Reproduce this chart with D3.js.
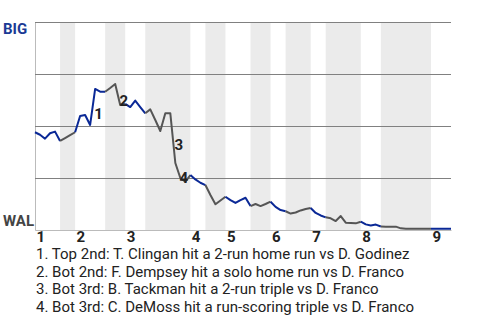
<!DOCTYPE html>
<html>
<head>
<meta charset="utf-8">
<script src="https://cdn.jsdelivr.net/npm/d3@7"></script>
<style>
  body { margin: 0; background: #fff; }
  text { font-family: Roboto, sans-serif; }
</style>
</head>
<body>
<svg width="480" height="320"></svg>
<script>
// BIG win probability (%) after each play
const winProb = [
  47.0, 45.8, 43.9, 46.5, 47.3, 42.8, 44.2, 45.6, 47.0, 54.8,
  55.3, 50.5, 67.8, 66.5, 66.5, 68.3, 70.2, 60.1, 60.6, 59.1,
  62.2, 59.1, 56.1, 58.0, 52.9, 47.6, 56.1, 56.1, 32.2, 25.0,
  23.2, 26.4, 24.3, 22.7, 21.6, 16.8, 12.4, 14.2, 16.0, 14.4,
  13.0, 14.4, 15.5, 11.5, 12.5, 11.5, 12.5, 13.6, 11.1, 9.6,
  9.0, 7.9, 8.4, 9.4, 10.1, 10.6, 8.2, 7.0, 6.1, 5.6,
  4.3, 6.7, 3.5, 3.4, 3.2, 4.0, 2.7, 2.2, 2.6, 1.7,
  1.6, 1.6, 1.6, 0.8, 0.6, 0.6, 0.6, 0.6, 0.6, 0.6,
  0.6, 0.6, 0.6, 0.6
];

// play index where each half-inning starts (top 1st, bot 1st, top 2nd, ...)
const halfStarts = [0, 5, 8, 14, 18, 22, 31, 34, 38, 43, 47, 50, 55, 58, 65, 69, 79];
const inningLabels = ['1', '2', '3', '4', '5', '6', '7', '8', '9'];

// play index that ends each key event
const eventPlays = [12, 17, 28, 29];
const eventTexts = [
  '1. Top 2nd: T. Clingan hit a 2-run home run vs D. Godinez',
  '2. Bot 2nd: F. Dempsey hit a solo home run vs D. Franco',
  '3. Bot 3rd: B. Tackman hit a 2-run triple vs D. Franco',
  '4. Bot 3rd: C. DeMoss hit a run-scoring triple vs D. Franco'
];

const svg = d3.select('svg');

const lastPlay = winProb.length - 1;
const blue = '#0a2896';

const x = d3.scaleLinear().domain([0, lastPlay]).range([35, 451]);
const y = d3.scaleLinear().domain([0, 100]).range([230, 22]);

const halves = halfStarts.map((s, i) => ({
  start: s,
  end: i < halfStarts.length - 1 ? halfStarts[i + 1] : lastPlay,
  bottom: i % 2 === 1
}));

// shaded bottom halves
svg.append('g')
  .selectAll('rect')
  .data(halves.filter(d => d.bottom))
  .join('rect')
    .attr('x', d => x(d.start))
    .attr('width', d => x(d.end) - x(d.start))
    .attr('y', y(100))
    .attr('height', y(0) - y(100))
    .attr('fill', '#ebebeb');

// gridlines + left edge
const gridG = svg.append('g')
    .attr('transform', `translate(${x(0)},0)`)
    .call(d3.axisLeft(y)
      .tickValues([25, 50, 75, 100])
      .tickSize(-(x(lastPlay) - x(0)))
      .tickSizeOuter(0)
      .tickFormat(''));
gridG.select('.domain').attr('stroke', '#bbb');
gridG.selectAll('.tick line').attr('stroke', '#808080');

// inning axis
const inningStarts = halfStarts.filter((d, i) => i % 2 === 0);
const xAxisG = svg.append('g')
    .attr('transform', `translate(0,${y(0)})`)
    .call(d3.axisBottom(x)
      .tickValues(inningStarts)
      .tickSize(0)
      .tickSizeOuter(0)
      .tickPadding(1)
      .tickFormat((d, i) => inningLabels[i]));
xAxisG.select('.domain').attr('stroke', '#bbb');
xAxisG.selectAll('text')
    .attr('text-anchor', 'start')
    .attr('dx', 1)
    .attr('font-family', 'Roboto, sans-serif')
    .attr('font-size', 15)
    .attr('font-weight', 'bold')
    .attr('fill', '#222');

// team labels
svg.append('text')
    .attr('x', 3)
    .attr('y', y(100) + 12)
    .attr('font-size', 15)
    .attr('font-weight', 'bold')
    .attr('fill', '#1a3a94')
    .text('BIG');

svg.append('text')
    .attr('x', 3)
    .attr('y', y(0) - 4)
    .attr('font-size', 15)
    .attr('font-weight', 'bold')
    .attr('fill', '#444')
    .text('WAL');

// win probability line, coloured by half-inning
const line = d3.line()
    .x(i => x(i))
    .y(i => y(winProb[i]));

svg.append('g')
  .selectAll('path')
  .data(halves)
  .join('path')
    .attr('d', d => line(d3.range(d.start, d.end + 1)))
    .attr('fill', 'none')
    .attr('stroke', d => d.bottom ? '#555' : blue)
    .attr('stroke-width', 2)
    .attr('stroke-linejoin', 'round');

// event markers
svg.append('g')
  .selectAll('text')
  .data(eventPlays)
  .join('text')
    .attr('x', p => (x(p - 1) + x(p)) / 2 + 6)
    .attr('y', p => (y(winProb[p - 1]) + y(winProb[p])) / 2 + 12)
    .attr('text-anchor', 'middle')
    .attr('font-size', 15)
    .attr('font-weight', 'bold')
    .attr('fill', '#222')
    .text((p, i) => i + 1);

// event notes
svg.append('g')
  .selectAll('text')
  .data(eventTexts)
  .join('text')
    .attr('x', 36)
    .attr('y', (d, i) => 259 + i * 17.5)
    .attr('font-size', 15)
    .attr('fill', '#222')
    .text(d => d);
</script>
</body>
</html>
